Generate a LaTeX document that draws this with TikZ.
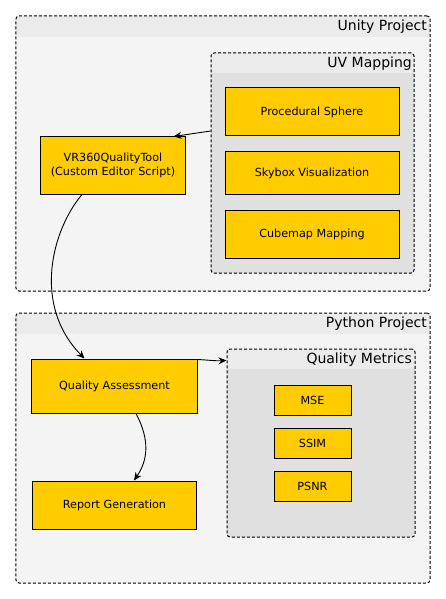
\documentclass[tikz,border=0pt]{standalone}
\usepackage{fontspec}
\setmainfont{DejaVu Sans}
\usetikzlibrary{arrows.meta}
\definecolor{boxfill}{HTML}{FFCC00}
\definecolor{outerbody}{HTML}{F4F4F4}
\definecolor{outerhead}{HTML}{EBEBEB}
\definecolor{innerbody}{HTML}{E0E0E0}
\definecolor{innerhead}{HTML}{EBEBEB}
\tikzset{
  cluster/.style={draw=black, line width=1bp, dash pattern=on 3bp off 2bp, rounded corners=3bp, inner sep=0pt},
  outercl/.style={cluster, fill=outerbody, path picture={\fill[outerhead] (path picture bounding box.north west) rectangle ([yshift=-21bp]path picture bounding box.north east);}},
  innercl/.style={cluster, fill=innerbody, path picture={\fill[innerhead] (path picture bounding box.north west) rectangle ([yshift=-20bp]path picture bounding box.north east);}},
  cltitle/.style={anchor=east, font=\fontsize{14bp}{16bp}\selectfont, inner sep=0pt},
  stepbox/.style={draw=black, line width=1bp, fill=boxfill, inner sep=0pt, align=center, font=\fontsize{11.2bp}{14bp}\selectfont},
  arr/.style={-{Stealth[length=8bp,width=7bp]}, line width=0.9bp},
}
\begin{document}
\begin{tikzpicture}[x=1bp,y=-1bp]
\useasboundingbox (0,0) rectangle (446,599);
% clusters
\node[outercl, minimum width=414bp, minimum height=275bp] (unity) at (223,153.5) {};
\node[cltitle] (unityt) at (427,27) {Unity Project};
\node[innercl, minimum width=203bp, minimum height=220bp] (uv) at (312.5,163) {};
\node[cltitle] (uvt) at (412,64) {UV Mapping};
\node[outercl, minimum width=414bp, minimum height=270bp] (python) at (223,448) {};
\node[cltitle] (pyt) at (427,324) {Python Project};
\node[innercl, minimum width=188bp, minimum height=188bp] (qm) at (321,443) {};
\node[cltitle] (qmt) at (412,360) {Quality Metrics};
% boxes
\node[stepbox, minimum width=174bp, minimum height=48bp] (ps) at (312,112) {Procedural Sphere};
\node[stepbox, minimum width=174bp, minimum height=42bp] (sky) at (312,173) {Skybox Visualization};
\node[stepbox, minimum width=174bp, minimum height=48bp] (cube) at (312,234) {Cubemap Mapping};
\node[stepbox, minimum width=144bp, minimum height=57bp] (vr) at (113,165.5) {VR360QualityTool\\(Custom Editor Script)};
\node[stepbox, minimum width=165bp, minimum height=54bp] (qa) at (114.5,386) {Quality Assessment};
\node[stepbox, minimum width=163bp, minimum height=48bp] (rep) at (114.5,505) {Report Generation};
\node[stepbox, minimum width=77bp, minimum height=30bp] (mse) at (312.5,400) {MSE};
\node[stepbox, minimum width=77bp, minimum height=30bp] (ssim) at (312.5,443) {SSIM};
\node[stepbox, minimum width=77bp, minimum height=30bp] (psnr) at (312.5,486) {PSNR};
% connectors
\draw[arr] ([yshift=32bp]uv.west) -- ([xshift=-12bp]vr.north east);
\draw[arr] ([xshift=-31bp]vr.south) .. controls (52,230) and (32,305) .. ([xshift=-30bp]qa.north);
\draw[arr] ([yshift=-1bp]qa.north east) .. controls (208,360) and (215,361) .. ([yshift=-12bp]qm.north west);
\draw[arr] ([xshift=21.5bp]qa.south) .. controls (150,440) and (148,460) .. ([xshift=19.5bp]rep.north);
\end{tikzpicture}
\end{document}
